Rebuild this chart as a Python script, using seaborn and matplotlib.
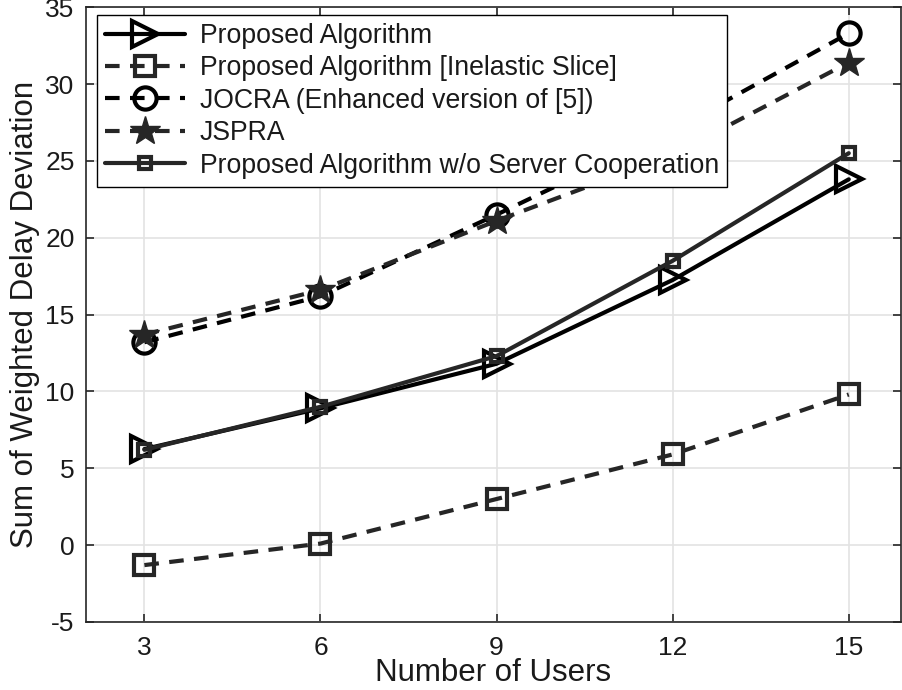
import matplotlib
matplotlib.use("Agg")
import matplotlib.pyplot as plt
import seaborn as sns

# Number of users on the x axis
users = [3, 6, 9, 12, 15]

# Sum of weighted delay deviation for each scheme
proposed = [6.25, 8.9, 11.8, 17.25, 23.8]
proposed_inelastic = [-1.3, 0.1, 3.0, 5.9, 9.8]
jocra = [13.2, 16.2, 21.5, 27.0, 33.3]
jspra = [13.7, 16.6, 21.1, 25.4, 31.4]
proposed_no_coop = [6.2, 9.0, 12.3, 18.5, 25.5]

labels = [
    "Proposed Algorithm",
    "Proposed Algorithm [Inelastic Slice]",
    "JOCRA (Enhanced version of [5])",
    "JSPRA",
    "Proposed Algorithm w/o Server Cooperation",
]

y_ticks = [-5, 0, 5, 10, 15, 20, 25, 30, 35]

sns.set_theme(style="whitegrid")
plt.rcParams["font.family"] = ["Liberation Sans", "DejaVu Sans"]

fig = plt.figure(figsize=(9.02, 6.90), dpi=100)
ax = fig.add_axes([0.095, 0.0986, 0.9039, 0.8910])

black = "#000000"
dark = "#262626"
dash = (0, (3.5, 2.5))
lw = 3.0

series = [
    (proposed, black, "-", ">", 19, "none", 3.0),
    (proposed_inelastic, dark, dash, "s", 15, "none", 3.0),
    (jocra, black, dash, "o", 16, "none", 3.0),
    (jspra, dark, dash, "*", 22, dark, 1.0),
    (proposed_no_coop, dark, "-", "s", 9, "none", 3.0),
]

for (vals, color, ls, marker, ms, mfc, mew), label in zip(series, labels):
    sns.lineplot(x=users, y=vals, ax=ax, color=color, linestyle=ls,
                 linewidth=lw, marker=marker, markersize=ms,
                 markerfacecolor=mfc, markeredgecolor=color,
                 markeredgewidth=mew, label=label, zorder=3)

ax.set_xlim(2, 15.89)
ax.set_ylim(-5, 35)
ax.set_xticks(users)
ax.set_yticks(y_ticks)
ax.set_xticklabels([str(u) for u in users])
ax.set_yticklabels([str(t) for t in y_ticks])

ax.grid(True, color="#e3e3e3", linewidth=1.2)
for side in ["left", "right", "top", "bottom"]:
    ax.spines[side].set_visible(True)
    ax.spines[side].set_color("#262626")
    ax.spines[side].set_linewidth(1.2)

ax.tick_params(axis="both", which="major", direction="in", length=6,
               width=1.2, color="#262626", labelsize=19,
               labelcolor="#1a1a1a", top=True, right=True,
               bottom=True, left=True)
ax.tick_params(axis="x", pad=10)
ax.tick_params(axis="y", pad=8)

ax.set_xlabel("Number of Users", fontsize=22.5, color="#1a1a1a", labelpad=-1)
ax.set_ylabel("Sum of Weighted Delay Deviation", fontsize=22.5,
              color="#1a1a1a", labelpad=4)

leg = ax.legend(loc="upper left", bbox_to_anchor=(97 / 902, 1 - 15 / 690),
                bbox_transform=fig.transFigure, borderaxespad=0,
                fontsize=19.2, handlelength=3.0, handletextpad=0.55,
                labelspacing=0.24, borderpad=0.3, fancybox=False,
                framealpha=1, edgecolor="#000000")
leg.get_frame().set_linewidth(1.0)
for t in leg.get_texts():
    t.set_color("#1a1a1a")

fig.savefig("out.png", dpi=100)
